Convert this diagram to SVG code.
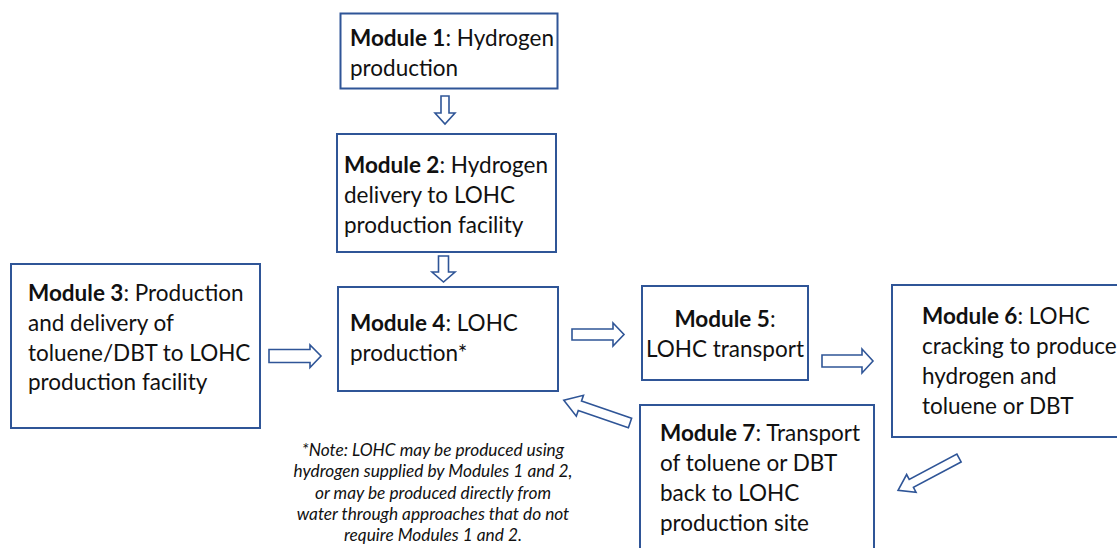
<svg xmlns="http://www.w3.org/2000/svg" width="1117" height="548" viewBox="0 0 1117 548">
<style>
.box{fill:#fff;stroke:#2f5597;stroke-width:2}
.arr{fill:#fff;stroke:#2f5597;stroke-width:1.6;stroke-linejoin:miter}
text{font-family:Lato,"Open Sans","Liberation Sans",sans-serif;font-size:22.5px;fill:#111}
.b{font-weight:bold}
.note{font-style:italic;font-size:17.3px;text-anchor:middle}
</style>
<rect width="1117" height="548" fill="#fff"/>
<g id="connectors">
<path class="arr" d="M441,96 H449 V113 H455 L445,124 L435,113 H441 Z"/>
<path class="arr" d="M438.5,256 H448.5 V272 H455 L443.5,282 L432,272 H438.5 Z"/>
<path class="arr" d="M269,349.5 H310 V345 L321,356 L310,367.5 V362.5 H269 Z"/>
<path class="arr" d="M572,329 H613 V323 L624,334.5 L613,346 V340 H572 Z"/>
<path class="arr" d="M822,355 H862 V349 L873,361 L862,373 V367 H822 Z"/>
<path class="arr" transform="translate(630,423) rotate(199)" d="M0,-5 H53 V-11 L70,0 L53,11 V5 H0 Z"/>
<path class="arr" transform="translate(959,458) rotate(152)" d="M0,-4.5 H54 V-10 L69,0 L54,10 V4.5 H0 Z"/>
</g>
<g id="module1">
<rect class="box" x="340.5" y="13.5" width="217" height="75"/>
<text x="350" y="46"><tspan class="b">Module 1</tspan>: Hydrogen</text>
<text x="350" y="76">production</text>
</g>
<g id="module2">
<rect class="box" x="337" y="134" width="219" height="118"/>
<text x="344" y="173"><tspan class="b">Module 2</tspan>: Hydrogen</text>
<text x="344" y="203">delivery to LOHC</text>
<text x="344" y="233">production facility</text>
</g>
<g id="module3">
<rect class="box" x="11" y="264" width="249" height="164"/>
<text x="28" y="301"><tspan class="b">Module 3</tspan>: Production</text>
<text x="28" y="331">and delivery of</text>
<text x="28" y="361">toluene/DBT to LOHC</text>
<text x="28" y="390">production facility</text>
</g>
<g id="module4">
<rect class="box" x="338" y="287" width="220" height="104"/>
<text x="350" y="331"><tspan class="b">Module 4</tspan>: LOHC</text>
<text x="350" y="361">production*</text>
</g>
<g id="module5">
<rect class="box" x="642" y="286" width="166" height="94"/>
<text x="725" y="327" text-anchor="middle"><tspan class="b">Module 5</tspan>:</text>
<text x="725" y="357" text-anchor="middle">LOHC transport</text>
</g>
<g id="module6">
<rect class="box" x="892" y="285" width="240" height="152"/>
<text x="922" y="324"><tspan class="b">Module 6</tspan>: LOHC</text>
<text x="922" y="354">cracking to produce</text>
<text x="922" y="384">hydrogen and</text>
<text x="922" y="414">toluene or DBT</text>
</g>
<g id="module7">
<rect class="box" x="640" y="405" width="234" height="160"/>
<text x="660" y="441"><tspan class="b">Module 7</tspan>: Transport</text>
<text x="660" y="471">of toluene or DBT</text>
<text x="660" y="501">back to LOHC</text>
<text x="660" y="531">production site</text>
</g>
<g id="note">
<text class="note" x="433" y="456">*Note: LOHC may be produced using</text>
<text class="note" x="433" y="477">hydrogen supplied by Modules 1 and 2,</text>
<text class="note" x="433" y="499">or may be produced directly from</text>
<text class="note" x="433" y="520">water through approaches that do not</text>
<text class="note" x="433" y="541">require Modules 1 and 2.</text>
</g>
</svg>
